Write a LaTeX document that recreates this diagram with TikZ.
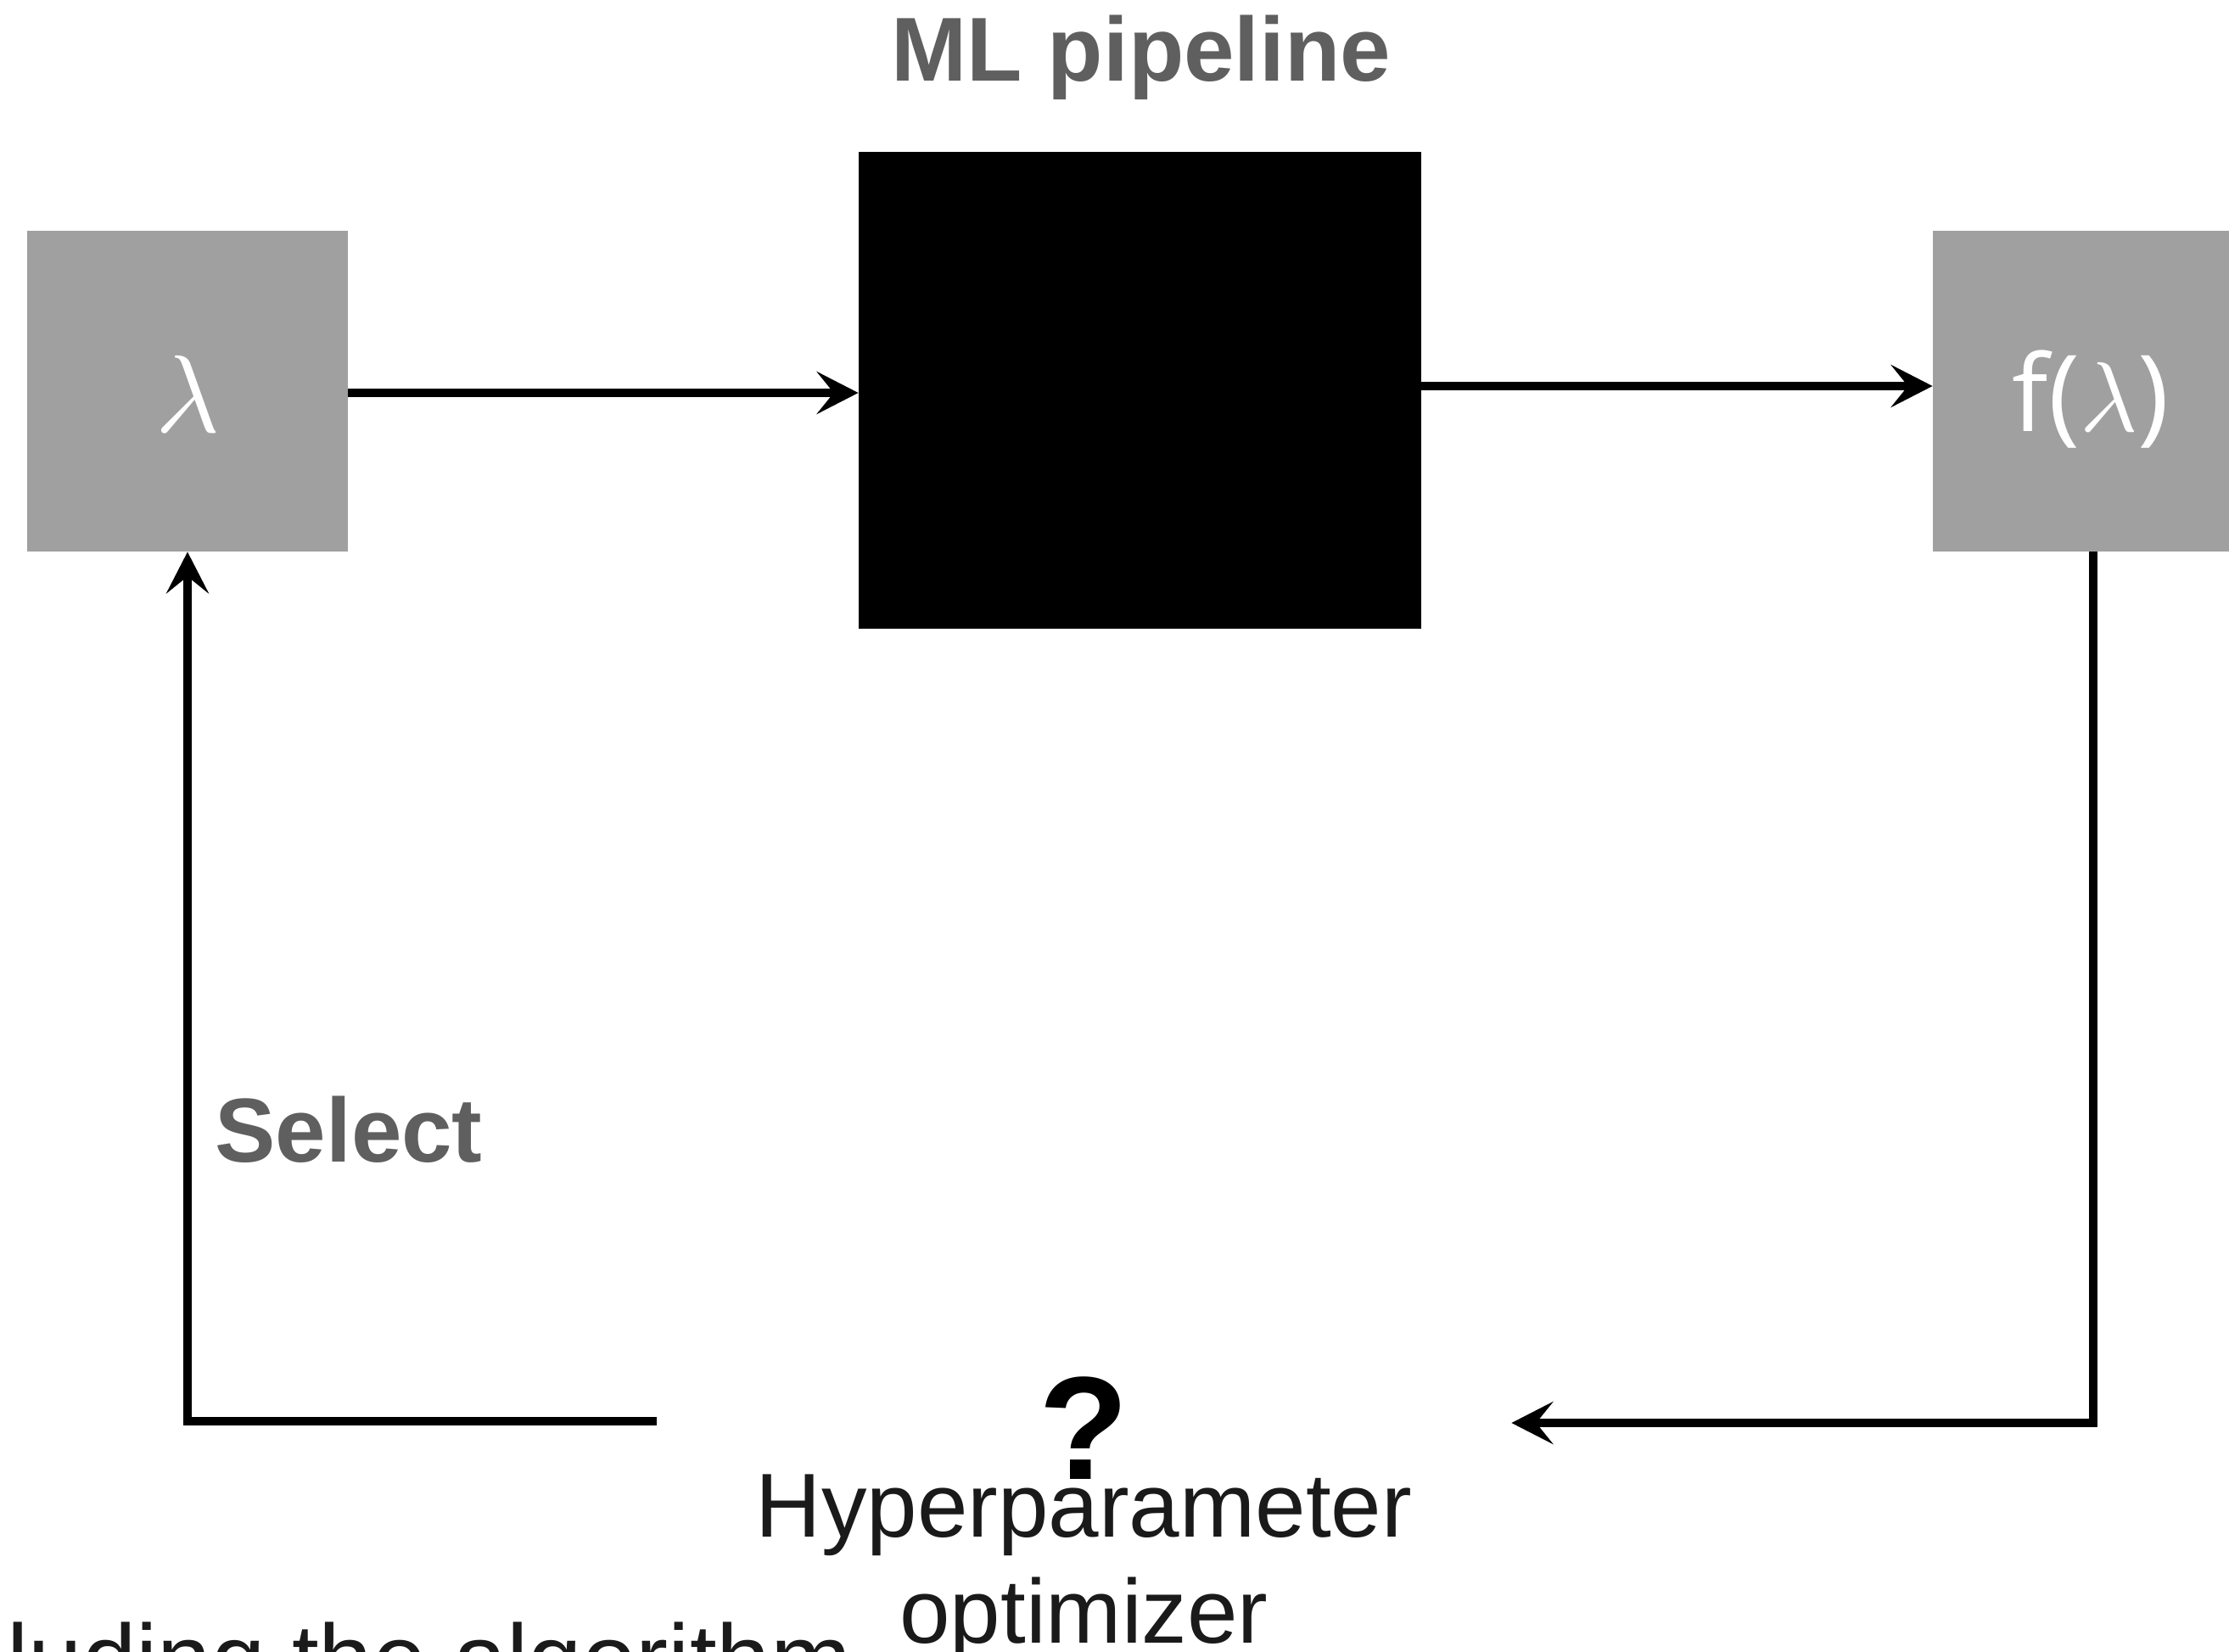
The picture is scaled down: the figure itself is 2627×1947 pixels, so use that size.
\documentclass[tikz,border=0pt]{standalone}
\usepackage{fontspec}
\setmainfont{Liberation Sans}
\newfontfamily\glyphfont{Open Sans}
\usetikzlibrary{arrows.meta,calc}
\definecolor{boxgray}{HTML}{A0A0A0}
\definecolor{labelgray}{HTML}{5F5F5F}
\definecolor{ink}{HTML}{1A1A1A}
% lambda set at 10pt and then enlarged by the given factor
\newcommand\lamglyph[1]{{\fontsize{10}{12}\selectfont\scalebox{#1}{$\lambda$}}}
\begin{document}
\begin{tikzpicture}[x=0.5pt,y=-0.5pt,
  valbox/.style={rectangle,fill=boxgray,minimum width=189pt,minimum height=189pt,inner sep=0pt},
  blackbox/.style={rectangle,fill=black,minimum width=331.5pt,minimum height=281pt,inner sep=0pt},
  flow/.style={line width=5pt,-{Stealth[length=24.5pt,width=25pt,inset=10pt]}},
  title/.style={font=\fontsize{53.5}{62.5}\selectfont\bfseries,text=labelgray,inner sep=0pt,anchor=base},
  mathlbl/.style={font=\glyphfont\fontsize{62.5}{70}\selectfont,text=white,inner sep=0pt,anchor=base},
  body/.style={font=\fontsize{53.5}{62.5}\selectfont,text=ink,inner sep=0pt}]
\useasboundingbox (0,0) rectangle (2627,1947);
\clip (0,0) rectangle (2627,1947);
% value boxes and the pipeline block
\node[valbox] (lam) at (221,461) {};
\node[blackbox] (pipe) at (1343.5,460) {};
\node[valbox] (flam) at (2467,461) {};
\node[mathlbl] (lamtxt) at (221,509) {\lamglyph{6.5}};
\node[mathlbl] (flamtxt) at (2464,508) {f(\lamglyph{5.85})};
% labels
\node[title] (pipetitle) at (1345,96) {ML pipeline};
\node[title,anchor=base west] (sel) at (253,1369) {Select};
% optimizer in the feedback loop
\node[rectangle,minimum width=503.5pt,minimum height=40pt,inner sep=0pt] (hpo) at (1277.5,1676) {};
\node[font=\fontsize{86.5}{90}\selectfont\bfseries,text=black,inner sep=0pt,anchor=base] (q) at (1277,1743) {?};
\node[body,anchor=base,align=center] (hpolbl) at (1277.5,1936) {Hyperparameter\\optimizer};
\node[body,font=\fontsize{57}{62}\selectfont,anchor=base west] (note) at (8,1994) {luding the algorithm};
% connectors
\draw[flow] ([yshift=-1pt]lam.east) -- ([yshift=-1pt]lam.east -| pipe.west);
\draw[flow] ([yshift=2.5pt]pipe.east) -- ([yshift=2.5pt]pipe.east -| flam.west);
\draw[flow] (flam.south) |- ([yshift=-0.5pt]hpo.east);
\draw[flow] ([yshift=0.5pt]hpo.west) -| (lam.south);
\end{tikzpicture}
\end{document}
